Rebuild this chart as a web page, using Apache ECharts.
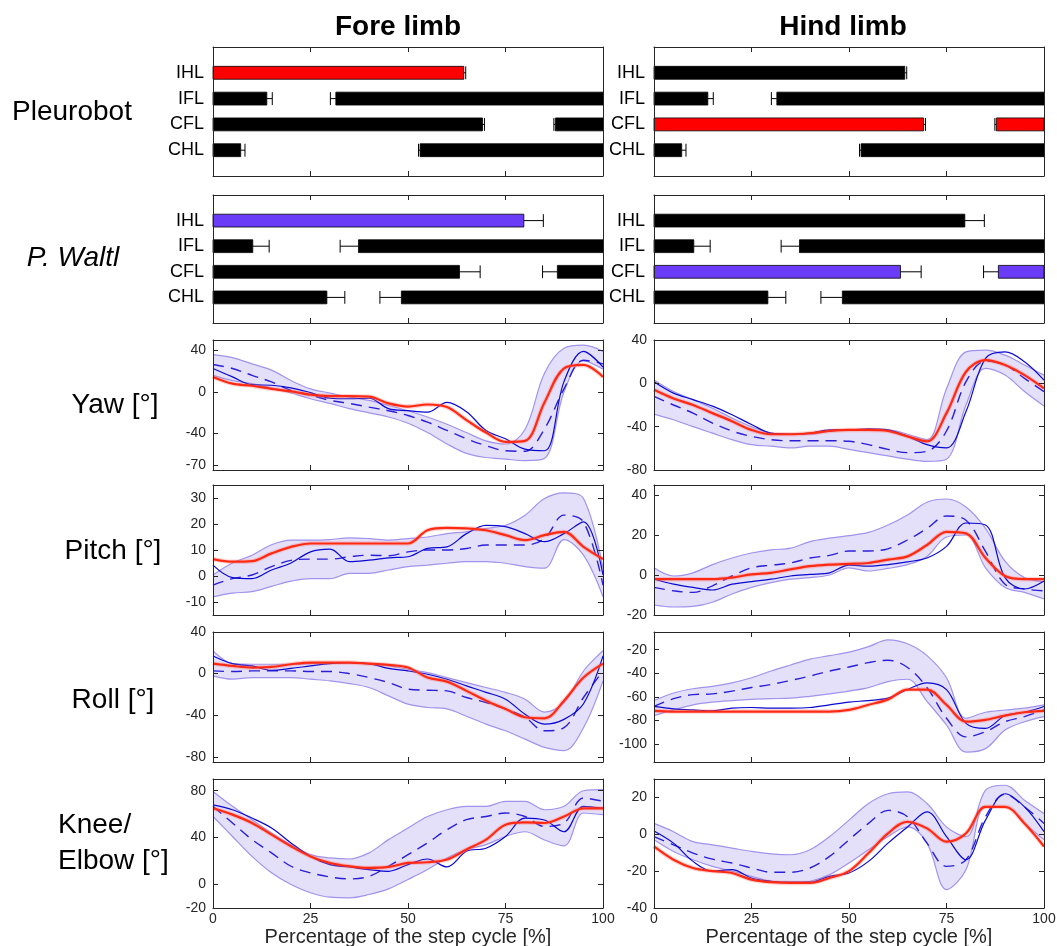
<!DOCTYPE html>
<html>
<head>
<meta charset="utf-8">
<script src="https://cdn.jsdelivr.net/npm/echarts@6.0.0/dist/echarts.min.js"></script>
<style>
html, body { margin: 0; padding: 0; background: #fff; }
#main { width: 1057px; height: 946px; }
</style>
</head>
<body>
<div id="main"></div>
<script>
// step cycle sample points [%]
const X = [0, 5, 10, 15, 20, 25, 30, 35, 40, 45, 50, 55, 60, 65, 70, 75, 80, 85, 90, 95, 100];

// gait diagram: [limb row, stance start, stance end, error bar end]
const limbs = ['IHL', 'IFL', 'CFL', 'CHL'];
const pleuroStance = [[1, 0, 64.3, 64.8], [2, 0, 13.8, 15.2], [2, 31.5, 100, 30.1], [3, 0, 69.1, 69.6], [3, 87.8, 100, 87.4], [4, 0, 7.1, 8.2], [4, 53.1, 100, 52.7]];
const waltlStance = [[1, 0, 79.7, 84.7], [2, 0, 10.2, 14.4], [2, 37.3, 100, 32.6], [3, 0, 63.2, 68.5], [3, 88.3, 100, 84.5], [4, 0, 29.2, 33.8], [4, 48.3, 100, 42.8]];

// Yaw
const yawForeHi = [36, 33, 27, 21, 11, 3, -1, -5, -8, -13, -18, -24, -31, -39, -47, -50, -36, 18, 42, 45, 39];
const yawForeLo = [16, 11, 8, 4, -1, -6.5, -11, -16, -20, -24, -30, -39, -50, -59, -63, -64.5, -66, -64, 0, 30, 22];
const yawForeMean = [26.5, 22.6, 16, 9.7, 1.6, -3, -8, -11, -14.5, -18, -22.6, -29, -37, -45, -51.6, -56.5, -57, -35.5, 3, 30.6, 27];
const yawForeAnimal = [22.6, 14.5, 7, 6.5, 4, -0.6, -6, -6.5, -6, -16, -18, -19.4, -10, -19, -37, -45, -55, -56.5, 10, 39, 24];
const yawForeRobot = [14.5, 8, 6, 3, 0.6, -2.6, -4, -4, -4.5, -11, -14, -12, -14.5, -27, -39, -48, -47, -10, 22.6, 26, 14.5];

const yawHindHi = [3, -7.6, -15, -23, -32, -40, -46, -47, -47, -44, -43, -43, -43, -47, -52, -5, 29, 30.6, 26, 17, 7.6];
const yawHindLo = [-28.4, -33.6, -40, -46, -52, -56.6, -58, -59.6, -58, -58, -61, -64, -67, -70, -72, -70, -20, 13.8, 7.6, -7.6, -21];
const yawHindMean = [-12, -20, -27.5, -36.7, -44, -49, -52, -53, -53, -53, -53.5, -56.6, -61, -64, -62.7, -44, 1.5, 20.5, 17, 4.6, -7.6];
const yawHindAnimal = [1.5, -9, -15, -21, -29, -38, -46, -47, -46, -43, -43, -42, -43, -49, -56.6, -59.6, -26, 23, 29, 20, 3];
const yawHindRobot = [-6, -14, -20, -27.5, -35, -43, -47, -47, -46, -44, -43, -43, -44, -49, -53.5, -27.5, 10.7, 21.4, 17, 7.6, -4.6];

// Pitch
const pitchForeHi = [0.4, 5, 8, 12, 13.8, 13.8, 14, 14.7, 14.4, 13.8, 14.4, 15, 16.3, 17, 18.3, 19.5, 23.4, 29.8, 32, 29.8, 3];
const pitchForeLo = [-8, -6.6, -6, -4, -2, -1, -1, 1, 1, 2.3, 3.6, 4.2, 4.9, 5.5, 5.5, 4.9, 3.6, 3, 14, 8, -8];
const pitchForeMean = [-3.5, -1, 0.4, 3.6, 6, 6.5, 6.5, 7.4, 8, 7.8, 9.3, 10, 10, 10.6, 11.9, 11.9, 11.9, 14.4, 23.4, 20.8, -3.5];
const pitchForeAnimal = [4.2, -0.6, -1, 2.3, 5, 9.3, 10.3, 5.5, 6.1, 7, 7.4, 10.6, 11.2, 16.3, 19.5, 19, 16.3, 13.2, 16.3, 20.8, 0.4];
const pitchForeRobot = [6.5, 5.5, 5.7, 8.7, 11.2, 12.5, 12.5, 12.5, 12.5, 12.5, 12.5, 17.6, 18.5, 18.3, 17.6, 15.7, 13.8, 15.7, 17, 11.2, 6.5];

const pitchHindHi = [3.6, -0.5, 1.1, 5.2, 8.5, 11, 12.6, 13.4, 16.7, 18.4, 19.7, 21.3, 25, 30, 36.4, 38, 34, 23.3, 6.9, -1.3, -3.3];
const pitchHindLo = [-15, -16, -15.7, -13.6, -9.5, -6.2, -3.8, -2.1, -1.3, 0, 3.6, 2, 3.3, 5.2, 9.3, 19, 20, 3.6, -6.2, -8.7, -12];
const pitchHindMean = [-6.2, -7.9, -8.7, -5.4, -0.5, 3.6, 4.9, 6, 8.5, 9.8, 12, 12, 13.1, 17.5, 23.3, 29.5, 27.4, 11.8, -4.6, -7, -7.9];
const pitchHindAnimal = [-2, -4.6, -6.2, -7.5, -4.6, -3.3, -2.1, -0.5, 0.3, 1.1, 4.9, 4.4, 5.2, 6.6, 8.5, 14.3, 26, 25, -1.3, -7, -3];
const pitchHindRobot = [-2.1, -2.1, -2.1, -2.1, -1.3, 0.3, 1.1, 2.8, 4.4, 5.2, 5.6, 6, 7.7, 9.3, 15, 21.6, 20.8, 8.5, -0.5, -2.1, -2.1];

// Roll
const rollForeHi = [21.8, 9.6, 9, 9, 9, 9.6, 10.6, 10.6, 9, 7.4, 4.2, 1, -3.8, -8.6, -13.4, -18, -24.6, -37, -28, 2.5, 22];
const rollForeLo = [-2.2, -5.4, -3.8, -3.8, -3.8, -5.4, -7, -9.6, -13.4, -21.4, -29.4, -32.6, -34, -41, -48.6, -55, -63, -71, -74, -52, -7];
const rollForeMean = [2.6, 2, 2.6, 2.6, 2.6, 2, 2, 0, -3.8, -8.6, -15, -16, -16.6, -23, -27.8, -34, -42, -55, -52, -23, 2.6];
const rollForeAnimal = [17, 9.6, 7.4, 3.2, 5, 7.4, 9.6, 10.6, 9.6, 5, 2.6, -0.6, -5.4, -11.8, -18, -24.6, -39, -48.6, -44, -29, 17];
const rollForeRobot = [9.6, 7.4, 5.8, 6.4, 9, 10.6, 10.6, 10.6, 9.6, 8.3, 5.8, -3.8, -7.7, -16.6, -26, -34, -42, -43, -26, -3.8, 9.6];

const rollHindHi = [-63, -56.6, -53, -51, -48, -43.7, -38, -32.9, -28, -25, -22, -17.4, -11.7, -15, -25, -43.7, -78, -72.9, -71, -69.4, -66.6];
const rollHindLo = [-75.7, -70.9, -66.6, -64.3, -63, -62, -61.4, -61, -59.4, -57.4, -55, -52, -47, -45, -63.7, -83.7, -106.6, -103.7, -88, -80.9, -76.6];
const rollHindMean = [-68, -61.4, -58, -57.4, -55, -52, -49.4, -46, -42.3, -38, -34.6, -30.9, -28.9, -35, -52, -78, -93.7, -89.4, -80.9, -76.6, -70.9];
const rollHindAnimal = [-68, -70, -70.9, -71.7, -69.4, -68.9, -69.4, -69.4, -68.9, -66.6, -64.3, -63, -61, -53.7, -48, -53.7, -82.3, -86.6, -75.7, -72.9, -68];
const rollHindRobot = [-71.7, -72.3, -72.3, -72.3, -72.3, -72.3, -72.3, -72.3, -72.3, -72.3, -70.9, -66.6, -62, -53.7, -53.7, -66.6, -80.9, -79.4, -75.7, -72.9, -71.7];

// Knee / Elbow
const kneeForeHi = [79.4, 66.7, 55.3, 44, 34, 25.5, 22.7, 21.8, 27, 38.3, 48.2, 58, 63.8, 66.7, 66.7, 70.9, 70.9, 63.8, 66.7, 80, 80.9];
const kneeForeLo = [58, 41, 24, 10, 0, -7, -10.8, -11.3, -8.5, -3.7, 4.3, 12.8, 22.7, 29.8, 34, 41, 45, 38, 33, 61, 59.6];
const kneeForeMean = [66.7, 52.5, 38.3, 27, 15.6, 10, 6.5, 4.8, 7, 15.6, 25.5, 35.5, 46.8, 55.3, 58, 61, 58, 49.6, 52.5, 73.8, 71];
const kneeForeAnimal = [68, 63.8, 56.7, 48.2, 35.5, 24, 17, 15, 12.8, 11.3, 17, 21.8, 15, 28.4, 31, 41, 56.7, 55, 45, 66.7, 65];
const kneeForeRobot = [65, 59.6, 52.5, 42.6, 32.6, 24, 18.4, 15.6, 14.2, 15, 18.4, 19, 21.3, 29.8, 38.3, 51, 53, 52.5, 58, 65, 65];

const kneeHindHi = [5.9, 1.4, -4, -5.7, -7.5, -9.3, -10.6, -11.1, -8.4, -1.3, 7.7, 16.7, 22, 23, 16.7, 4, -1.3, 23.9, 26.6, 18.5, 11.3];
const kneeHindLo = [-3, -9.3, -13.8, -17.4, -20, -22.8, -25.5, -26.4, -25.5, -21.9, -15.6, -8.4, -1.3, 4, -4.8, -30, -19.2, 14.9, 14.9, 5.9, -3];
const kneeHindMean = [-1.3, -5.7, -10.2, -13.5, -15.6, -18.3, -20.6, -20.6, -18.3, -12, -3, 5.9, 13, 9.5, -4.8, -17.4, -13.8, 9.5, 21.7, 14.9, 5.9];
const kneeHindAnimal = [1.8, -4.8, -14.7, -20, -19.2, -23.7, -25.5, -26, -26, -22.8, -21, -14.7, -4.8, 4, 12.2, -1.3, -13.8, 7.7, 22, 14.9, 1.4];
const kneeHindRobot = [-6.6, -13.8, -18.3, -20, -21, -24.6, -26, -26.4, -26.4, -23.7, -20, -10.2, 0.5, 6.8, 3.2, -4, 0.5, 14.9, 14.9, 5.9, -6.6];

// y tick labels per panel
const yawForeTicks = [-70, -40, 0, 40];
const yawHindTicks = [-80, -40, 0, 40];
const pitchForeTicks = [-10, 0, 10, 20, 30];
const pitchHindTicks = [-20, 0, 20, 40];
const rollForeTicks = [-80, -40, 0, 40];
const rollHindTicks = [-100, -80, -60, -40, -20];
const kneeForeTicks = [-20, 0, 40, 80];
const kneeHindTicks = [-40, -20, 0, 20];

const AX = '#262626';
const FONT = '"Liberation Sans", Arial, sans-serif';
const RED = '#ff0000';
const ROBOT = '#ff2a14';
const PURPLE = '#6a3cf8';
const colLeft = [213, 654];
const plotW = 390;
const rowTop = [47, 195, 340, 485, 632, 779];
const rowH = [129, 128, 130, 130, 130, 129];

const grids = [], xAxes = [], yAxes = [], series = [];

function addFrame(row, col, yMin, yMax, yTicks, gait) {
    const gi = grids.length;
    const last = row === 5;
    grids.push({ left: colLeft[col], top: rowTop[row], width: plotW, height: rowH[row], outerBoundsMode: 'none' });
    const line = { onZero: false, lineStyle: { color: AX, width: 1 } };
    const tick = { inside: true, length: 5, lineStyle: { color: AX } };
    // axes sit above the series so the white band mask never hides the frame
    xAxes.push({
        gridIndex: gi, type: 'value', min: 0, max: 100, interval: 25, position: 'bottom', z: 10,
        axisLine: line, axisTick: tick, splitLine: { show: false },
        axisLabel: { show: last, fontSize: 14, color: AX, margin: 4, fontFamily: FONT },
        name: last ? 'Percentage of the step cycle [%]' : '', nameLocation: 'middle', nameGap: 19,
        nameTextStyle: { fontSize: 20, color: AX, fontFamily: FONT }
    });
    xAxes.push({
        gridIndex: gi, type: 'value', min: 0, max: 100, interval: 25, position: 'top', z: 10,
        axisLine: line, axisTick: tick, axisLabel: { show: false }, splitLine: { show: false }
    });
    yAxes.push({
        gridIndex: gi, type: 'value', min: yMin, max: yMax, inverse: gait, position: 'left', z: 10,
        axisLine: line, splitLine: { show: false },
        axisTick: { show: !gait, inside: true, length: 5, lineStyle: { color: AX }, customValues: yTicks },
        axisLabel: {
            customValues: yTicks, color: gait ? '#000' : AX, fontSize: gait ? 18 : 14, margin: gait ? 9 : 7, fontFamily: FONT,
            formatter: gait ? (v) => limbs[v - 1] : (v) => String(v)
        }
    });
    yAxes.push({
        gridIndex: gi, type: 'value', min: yMin, max: yMax, inverse: gait, position: 'right', z: 10,
        axisLine: line, splitLine: { show: false }, axisLabel: { show: false },
        axisTick: { show: !gait, inside: true, length: 5, lineStyle: { color: AX }, customValues: yTicks }
    });
    return gi;
}

function addGait(row, col, stance, color, highlight) {
    const gi = addFrame(row, col, 0, 5, [1, 2, 3, 4], true);
    series.push({
        type: 'custom', xAxisIndex: 2 * gi, yAxisIndex: 2 * gi, data: stance,
        renderItem: function (params, api) {
            const y = api.value(0), s = api.value(1), e = api.value(2), err = api.value(3);
            const h = api.size([0, 0.5])[1];
            const p0 = api.coord([s, y]), p1 = api.coord([e, y]), pe = api.coord([err, y]);
            const anchor = err > e ? p1[0] : p0[0];
            const fill = y === highlight ? color : '#000';
            return {
                type: 'group',
                children: [
                    { type: 'line', shape: { x1: anchor, y1: p0[1], x2: pe[0], y2: p0[1] }, style: { stroke: '#000', lineWidth: 1 } },
                    { type: 'line', shape: { x1: pe[0], y1: p0[1] - h / 2, x2: pe[0], y2: p0[1] + h / 2 }, style: { stroke: '#000', lineWidth: 1 } },
                    { type: 'rect', shape: { x: p0[0], y: p0[1] - h / 2, width: p1[0] - p0[0], height: h }, style: { fill: fill, stroke: '#000', lineWidth: 0.8 } }
                ]
            };
        }
    });
}

function pairs(arr) {
    return X.map((x, i) => [x, arr[i]]);
}

function addLines(row, col, yMin, yMax, ticks, hi, lo, mean, animal, robot) {
    const gi = addFrame(row, col, yMin, yMax, ticks, false);
    const ax = { xAxisIndex: 2 * gi, yAxisIndex: 2 * gi, type: 'line', symbol: 'none', smooth: 0.35, silent: true };
    const edge = { color: '#a093ec', width: 1.2 };
    // band: lavender area under the upper edge, masked in white under the lower edge
    series.push(Object.assign({}, ax, { data: pairs(hi), lineStyle: { width: 0 }, areaStyle: { color: '#e5e0f9', opacity: 1, origin: 'start' } }));
    series.push(Object.assign({}, ax, { data: pairs(lo), lineStyle: { width: 0 }, areaStyle: { color: '#ffffff', opacity: 1, origin: 'start' } }));
    series.push(Object.assign({}, ax, { data: pairs(hi), lineStyle: edge }));
    series.push(Object.assign({}, ax, { data: pairs(lo), lineStyle: edge }));
    series.push(Object.assign({}, ax, { data: pairs(mean), lineStyle: { color: '#2a1fd8', width: 1.4, type: [11, 7] } }));
    series.push(Object.assign({}, ax, { data: pairs(animal), lineStyle: { color: '#0808d0', width: 1.2 } }));
    series.push(Object.assign({}, ax, { data: pairs(robot), lineStyle: { color: 'rgba(255,110,100,0.3)', width: 4.5 } }));
    series.push(Object.assign({}, ax, { data: pairs(robot), lineStyle: { color: ROBOT, width: 2.2 } }));
}

addGait(0, 0, pleuroStance, RED, 1);
addGait(0, 1, pleuroStance, RED, 3);
addGait(1, 0, waltlStance, PURPLE, 1);
addGait(1, 1, waltlStance, PURPLE, 3);
addLines(2, 0, -75, 50, yawForeTicks, yawForeHi, yawForeLo, yawForeMean, yawForeAnimal, yawForeRobot);
addLines(2, 1, -80, 40, yawHindTicks, yawHindHi, yawHindLo, yawHindMean, yawHindAnimal, yawHindRobot);
addLines(3, 0, -15, 35, pitchForeTicks, pitchForeHi, pitchForeLo, pitchForeMean, pitchForeAnimal, pitchForeRobot);
addLines(3, 1, -20, 45, pitchHindTicks, pitchHindHi, pitchHindLo, pitchHindMean, pitchHindAnimal, pitchHindRobot);
addLines(4, 0, -85, 40, rollForeTicks, rollForeHi, rollForeLo, rollForeMean, rollForeAnimal, rollForeRobot);
addLines(4, 1, -115, -5, rollHindTicks, rollHindHi, rollHindLo, rollHindMean, rollHindAnimal, rollHindRobot);
addLines(5, 0, -20, 90, kneeForeTicks, kneeForeHi, kneeForeLo, kneeForeMean, kneeForeAnimal, kneeForeRobot);
addLines(5, 1, -40, 30, kneeHindTicks, kneeHindHi, kneeHindLo, kneeHindMean, kneeHindAnimal, kneeHindRobot);

function label(text, x, y, font, align) {
    return {
        type: 'text', x: x, y: y, silent: true,
        style: { text: text, font: font, fill: '#000', align: align || 'center', verticalAlign: 'middle', textAlign: align || 'center', textVerticalAlign: 'middle' }
    };
}

const graphics = [
    label('Fore limb', 398, 27, 'bold 28px ' + FONT),
    label('Hind limb', 843, 27, 'bold 28px ' + FONT),
    label('Pleurobot', 72, 112, '28px ' + FONT),
    label('P. Waltl', 73, 258, 'italic 28px ' + FONT),
    label('Yaw [°]', 115, 405, '28px ' + FONT),
    label('Pitch [°]', 113, 551, '28px ' + FONT),
    label('Roll [°]', 113, 700, '28px ' + FONT),
    label('Knee/', 58, 825, '28px ' + FONT, 'left'),
    label('Elbow [°]', 58, 861, '28px ' + FONT, 'left')
];

const myChart = echarts.init(document.getElementById('main'));
myChart.setOption({
    animation: false,
    backgroundColor: '#fff',
    textStyle: { fontFamily: FONT },
    grid: grids,
    xAxis: xAxes,
    yAxis: yAxes,
    series: series,
    graphic: graphics
});
</script>
</body>
</html>
